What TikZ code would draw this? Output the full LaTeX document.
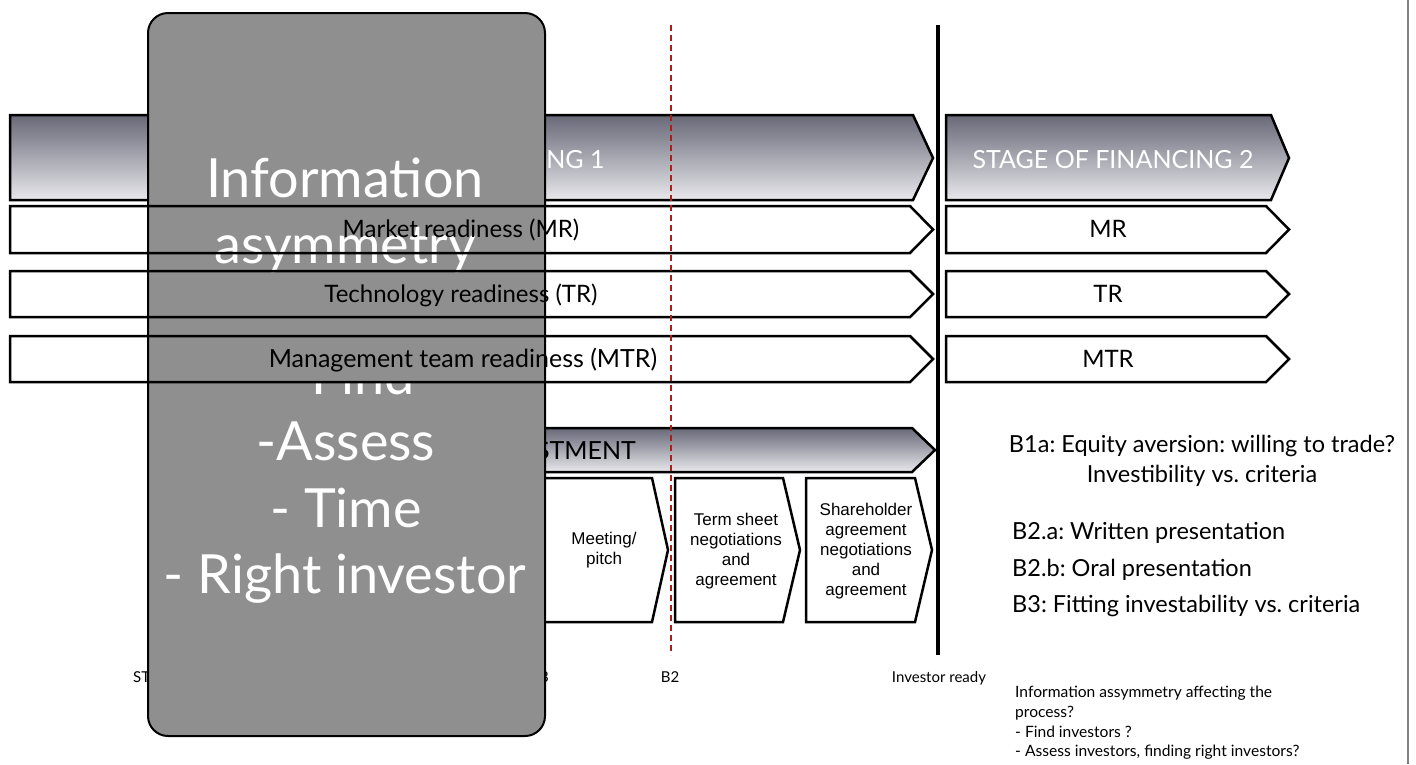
\documentclass[tikz,border=0pt]{standalone}
\usepackage{fontspec}
\setmainfont{Lato}
\newfontfamily\helv{Liberation Sans}
\definecolor{boxgray}{HTML}{8F8F8F}
\definecolor{bandtop}{HTML}{686878}
\definecolor{bandbot}{HTML}{E8E8EC}
\definecolor{reddash}{HTML}{A82018}
\tikzset{
  rowline/.style={draw=black, line width=2.5pt, line join=miter},
  band/.style={draw=black, line width=2.5pt, top color=bandtop, bottom color=bandbot, line join=miter},
  chevbox/.style={draw=black, line width=2.5pt, fill=white, line join=miter},
  bigtxt/.style={text=white, inner sep=0, anchor=base, font=\fontsize{54}{66}\selectfont},
  bantxt/.style={text=white, inner sep=0, anchor=base, font=\fontsize{25}{30}\selectfont},
  rowtxt/.style={text=black, inner sep=0, anchor=base, font=\fontsize{24}{28}\selectfont},
  chevtxt/.style={text=black, inner sep=0, align=center, font=\helv\fontsize{17}{20}\selectfont},
  sidetxt/.style={text=black, inner sep=0, font=\fontsize{23.5}{29}\selectfont},
  smalltxt/.style={text=black, inner sep=0, anchor=base west, font=\fontsize{15.6}{19}\selectfont},
  lbltxt/.style={text=black, inner sep=0, anchor=base, font=\fontsize{15}{18}\selectfont},
}
\frenchspacing
\begin{document}
\frenchspacing
\begin{tikzpicture}[x=1pt,y=-1pt]
\useasboundingbox (0,0) rectangle (1416,764);
\fill[white] (0,0) rectangle (1416,764);

% labels lying under the grey box
\node[lbltxt, anchor=base west] (start) at (133,682) {START};
\node[lbltxt, anchor=base east] (lblb) at (549,682) {B3};

% stage of financing 1 banner
\path[band] (10,115) -- (913,115) -- (933,158) -- (913,200) -- (10,200) -- cycle;
\node[bantxt] (stage1) at (464,168) {STAGE OF FINANCING 1};

% investment banner
\path[band] (300,428) -- (912,428) -- (935,450) -- (912,472) -- (300,472) -- cycle;
\node[text=black, inner sep=0, anchor=base east, font=\fontsize{25}{30}\selectfont] (invest) at (636,459) {INVESTMENT};

% process steps
\path[chevbox] (543,478) -- (652,478) -- (668,550) -- (652,622) -- (543,622) -- cycle;
\node[chevtxt] (meet) at (604,550) {Meeting/\\pitch};
\path[chevbox] (675,478) -- (783,478) -- (800,550) -- (783,622) -- (675,622) -- cycle;
\node[chevtxt] (term) at (736,551) {Term sheet\\negotiations\\and\\agreement};
\path[chevbox] (806,478) -- (915,478) -- (932,550) -- (915,622) -- (806,622) -- cycle;
\node[chevtxt] (share) at (866,551) {Shareholder\\agreement\\negotiations\\and\\agreement};

% row fills
\foreach \t/\b/\m in {206/253/229.5, 271/317/294, 336/382/359}{
  \fill[white] (10,\t) -- (910,\t) -- (933,\m) -- (910,\b) -- (10,\b) -- cycle;
}

% grey box
\draw[fill=boxgray, line width=2pt, rounded corners=20pt] (148,13) rectangle (545,736);
\node[bigtxt] (ia1) at (345,197) {Information};
\node[bigtxt] (ia2) at (345,263) {asymmetry};
\node[bigtxt] (ia3) at (346,394) {- Find};
\node[bigtxt] (ia4) at (346,460) {-Assess};
\node[bigtxt] (ia5) at (346,527) {- Time};
\node[bigtxt] (ia6) at (345,593) {- Right investor};
\fill[boxgray] (149.5,337.5) rectangle (543.5,380.5);

% row outlines and texts (stage 1)
\foreach \t/\b/\m in {206/253/229.5, 271/317/294, 336/382/359}{
  \path[rowline] (10,\t) -- (910,\t) -- (933,\m) -- (910,\b) -- (10,\b) -- cycle;
}
\node[rowtxt] (mr1) at (461,237) {Market readiness (MR)};
\node[rowtxt] (tr1) at (461,302) {Technology readiness (TR)};
\node[rowtxt, font=\fontsize{25}{29}\selectfont] (mtr1) at (463,367) {Management team readiness (MTR)};

% stage of financing 2
\path[band] (946,115) -- (1271,115) -- (1289,158) -- (1271,200) -- (946,200) -- cycle;
\node[bantxt] (stage2) at (1113,168) {STAGE OF FINANCING 2};
\foreach \t/\b/\m in {206/253/229.5, 271/317/294, 336/382/359}{
  \path[rowline, fill=white] (946,\t) -- (1266,\t) -- (1289,\m) -- (1266,\b) -- (946,\b) -- cycle;
}
\node[rowtxt] (mr2) at (1108,237) {MR};
\node[rowtxt] (tr2) at (1108,302) {TR};
\node[rowtxt] (mtr2) at (1108,367) {MTR};

% milestone lines
\coordinate (b2top) at (671,25);
\coordinate (b2bot) at (671,655);
\draw[reddash, line width=2.5pt, dash pattern=on 6pt off 4pt] (b2top) -- (b2bot);
\coordinate (irtop) at (938,25);
\coordinate (irbot) at (938,655);
\draw[black, line width=3.5pt] (irtop) -- (irbot);
\node[lbltxt] (b2) at (670,682) {B2};
\node[lbltxt] (ready) at (939,682) {Investor ready};

% right frame line
\coordinate (frtop) at (1408,0);
\coordinate (frbot) at (1408,764);
\draw[gray, line width=1.5pt] (frtop) -- (frbot);

% barriers text
\node[sidetxt, anchor=base] (s1) at (1202,452) {B1a: Equity aversion: willing to trade?};
\node[sidetxt, anchor=base] (s2) at (1202,482) {Investibility vs. criteria};
\node[sidetxt, anchor=base west] (s3) at (1012,539) {B2.a: Written presentation};
\node[sidetxt, anchor=base west] (s4) at (1012,576) {B2.b: Oral presentation};
\node[sidetxt, anchor=base west] (s5) at (1012,612) {B3: Fitting investability vs. criteria};

\node[smalltxt] (n1) at (1015,697) {Information assymmetry affecting the};
\node[smalltxt] (n2) at (1015,717) {process?};
\node[smalltxt] (n3) at (1015,737) {- Find investors ?};
\node[smalltxt] (n4) at (1015,756) {- Assess investors, finding right investors?};
\end{tikzpicture}
\end{document}
